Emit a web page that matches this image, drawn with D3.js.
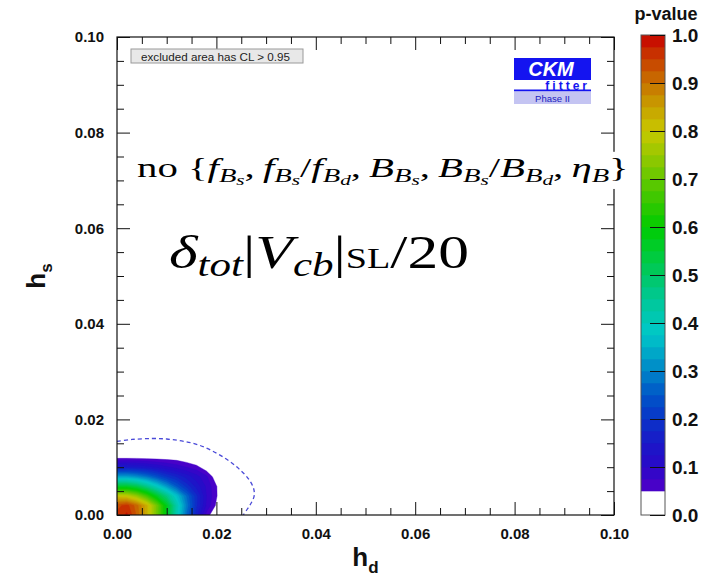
<!DOCTYPE html>
<html><head><meta charset="utf-8">
<script src="https://cdn.jsdelivr.net/npm/d3@7"></script>
<style>body{margin:0;background:#fff} svg{display:block}</style>
</head><body><svg id="c" width="722" height="581"></svg>
<script>
// ---------------- data ----------------
const hdGrid = [0,0.002,0.004,0.006,0.008,0.010,0.012,0.014,0.016,0.018,0.020,0.022,0.024];
const hsGrid = [0,0.002,0.004,0.006,0.008,0.010,0.012,0.014];
// p-value, one row per hs value
const pRow0  = [0.96,0.98,0.92,0.83,0.71,0.57,0.41,0.27,0.16,0.065,0.02,0,0];
const pRow1  = [0.94,0.96,0.91,0.83,0.71,0.57,0.42,0.29,0.18,0.095,0.045,0,0];
const pRow2  = [0.80,0.79,0.74,0.66,0.56,0.47,0.37,0.27,0.18,0.10,0.053,0.01,0];
const pRow3  = [0.55,0.55,0.52,0.46,0.39,0.32,0.25,0.19,0.14,0.095,0.052,0.01,0];
const pRow4  = [0.33,0.33,0.31,0.28,0.24,0.20,0.17,0.14,0.11,0.08,0.03,0.005,0];
const pRow5  = [0.15,0.15,0.145,0.135,0.12,0.105,0.09,0.075,0.06,0.03,0,0,0];
const pRow6  = [0.042,0.042,0.042,0.04,0.038,0.036,0.034,0.025,0.01,0,0,0,0];
const pRow7  = [0,0,0,0,0,0,0,0,0,0,0,0,0];
const pRows = [pRow0,pRow1,pRow2,pRow3,pRow4,pRow5,pRow6,pRow7];

// dashed contour
const dashHd = [0,0.003,0.007,0.010,0.013,0.016,0.019,0.022,0.0245,0.0265,0.0275,0.0276,0.027,0.0262,0.0254];
const dashHs = [0.0154,0.0158,0.0160,0.0159,0.0155,0.0148,0.0135,0.0117,0.0097,0.0075,0.0055,0.0040,0.0025,0.0012,0];

// palette
const colorStops = [0.05,0.10,0.15,0.20,0.25,0.30,0.35,0.38,0.45,0.50,0.55,0.60,0.65,0.70,0.75,0.80,0.85,0.90,0.95,1.00];
const colorHex   = ["#5200c8","#2a08c8","#1a18c8","#0a34c8","#0055c8","#0085c8","#00b2c8","#00c8c8","#00c896","#00c864","#00cc32","#00cc00","#34c800","#64c800","#98c800","#c8c800","#c8a000","#c87200","#c84000","#c80000"];

const xTickLabels = [0,0.02,0.04,0.06,0.08,0.10];
const yTickLabels = [0,0.02,0.04,0.06,0.08,0.10];
const cTickLabels = [0,0.1,0.2,0.3,0.4,0.5,0.6,0.7,0.8,0.9,1.0];

// ---------------- layout ----------------
const plot = {l:117, r:614, t:37, b:515};
const svg = d3.select('#c');
const x = d3.scaleLinear().domain([0,0.1]).range([plot.l, plot.r]);
const y = d3.scaleLinear().domain([0,0.1]).range([plot.b, plot.t]);
const color = d3.scaleLinear().domain(colorStops).range(colorHex).interpolate(d3.interpolateRgb).clamp(true);
const SANS = '"Liberation Sans", Arial, Helvetica, sans-serif';
const SERIF = '"Liberation Serif", "DejaVu Serif", serif';

svg.append('defs').append('clipPath').attr('id','clip')
  .append('rect').attr('x',plot.l).attr('y',plot.t).attr('width',plot.r-plot.l).attr('height',plot.b-plot.t);

// ---------------- filled contours ----------------
const nx = hdGrid.length, ny = hsGrid.length;
const flat = [];
pRows.forEach(r => r.forEach(v => flat.push(v)));
const levels = d3.range(0, 38).map(i => +(0.05 + i*0.025).toFixed(3));
const cont = d3.contours().size([nx, ny]).thresholds(levels)(flat);
const dhd = hdGrid[1]-hdGrid[0], dhs = hsGrid[1]-hsGrid[0];
const proj = d3.geoTransform({point: function(px, py){
  this.stream.point(x(hdGrid[0] + (px-0.5)*dhd), y(hsGrid[0] + (py-0.5)*dhs));
}});
const gpath = d3.geoPath(proj);
const gC = svg.append('g').attr('clip-path','url(#clip)');
gC.selectAll('path.band').data(cont).join('path').attr('class','band')
  .attr('d', gpath).attr('fill', d => color(d.value + 0.0125)).attr('stroke', d => color(d.value + 0.0125)).attr('stroke-width',0.4);

// dashed line
const dashPts = dashHd.map((h,i)=>[h, dashHs[i]]);
gC.append('path').datum(dashPts)
  .attr('d', d3.line().x(d=>x(d[0])).y(d=>y(d[1])).curve(d3.curveCatmullRom))
  .attr('fill','none').attr('stroke','#4a4ad8').attr('stroke-width',1.3).attr('stroke-dasharray','4,3');

// ---------------- axes ----------------
const minorVals = d3.range(0, 21).map(i => +(i*0.005).toFixed(3)).filter(v => Math.round(v*1000) % 20 !== 0);
function styleAxis(g){ g.select('.domain').remove(); g.selectAll('line').attr('stroke','#111').attr('stroke-width',1); 
  g.selectAll('text').style('font-family',SANS).style('font-weight','bold').style('font-size','15px').attr('fill','#111'); }
const fmt = d3.format('.2f');
svg.append('g').attr('transform',`translate(0,${plot.b})`).call(d3.axisBottom(x).tickValues(xTickLabels).tickSize(-13).tickPadding(13).tickFormat(fmt)).call(styleAxis);
svg.append('g').attr('transform',`translate(0,${plot.b})`).call(d3.axisBottom(x).tickValues(minorVals).tickSize(-7).tickFormat('')).call(styleAxis);
svg.append('g').attr('transform',`translate(0,${plot.t})`).call(d3.axisTop(x).tickValues(xTickLabels).tickSize(-13).tickFormat('')).call(styleAxis);
svg.append('g').attr('transform',`translate(0,${plot.t})`).call(d3.axisTop(x).tickValues(minorVals).tickSize(-7).tickFormat('')).call(styleAxis);
svg.append('g').attr('transform',`translate(${plot.l},0)`).call(d3.axisLeft(y).tickValues(yTickLabels).tickSize(-13).tickPadding(13).tickFormat(fmt)).call(styleAxis);
svg.append('g').attr('transform',`translate(${plot.l},0)`).call(d3.axisLeft(y).tickValues(minorVals).tickSize(-7).tickFormat('')).call(styleAxis);
svg.append('g').attr('transform',`translate(${plot.r},0)`).call(d3.axisRight(y).tickValues(yTickLabels).tickSize(-13).tickFormat('')).call(styleAxis);
svg.append('g').attr('transform',`translate(${plot.r},0)`).call(d3.axisRight(y).tickValues(minorVals).tickSize(-7).tickFormat('')).call(styleAxis);
svg.append('rect').attr('x',plot.l).attr('y',plot.t).attr('width',plot.r-plot.l).attr('height',plot.b-plot.t)
  .attr('fill','none').attr('stroke','#111').attr('stroke-width',1.2);

// axis titles
const xt = svg.append('text').attr('x',(plot.l+plot.r)/2).attr('y',566).attr('text-anchor','middle')
  .style('font-family',SANS).style('font-weight','bold').style('font-size','26px').attr('fill','#111');
xt.append('tspan').text('h'); xt.append('tspan').attr('dy',7).style('font-size','17px').text('d');
const yt = svg.append('text').attr('transform',`translate(45,${(plot.t+plot.b)/2}) rotate(-90)`).attr('text-anchor','middle')
  .style('font-family',SANS).style('font-weight','bold').style('font-size','26px').attr('fill','#111');
yt.append('tspan').text('h'); yt.append('tspan').attr('dy',7).style('font-size','17px').text('s');

// ---------------- legend box ----------------
svg.append('rect').attr('x',131).attr('y',49).attr('width',172).attr('height',14).attr('fill','#e8e8e8').attr('stroke','#9a9a9a').attr('stroke-width',1);
svg.append('text').attr('x',141).attr('y',60.5).attr('textLength',149).attr('lengthAdjust','spacingAndGlyphs')
  .style('font-family',SANS).style('font-size','11px').attr('fill','#222').text('excluded area has CL > 0.95');

// ---------------- CKM logo ----------------
const lg = svg.append('g');
lg.append('rect').attr('x',514).attr('y',58).attr('width',77).attr('height',22).attr('fill','#1414f0');
lg.append('text').attr('x',551).attr('y',76).attr('text-anchor','middle').style('font-family',SANS).style('font-weight','bold').style('font-style','italic').style('font-size','20px').attr('fill','#fff').text('CKM');
lg.append('rect').attr('x',514).attr('y',80).attr('width',77).attr('height',11).attr('fill','#fff');
lg.append('rect').attr('x',514).attr('y',89.5).attr('width',77).attr('height',2).attr('fill','#1414f0');
lg.append('text').attr('x',590).attr('y',89.5).attr('text-anchor','end').style('font-family',SANS).style('font-weight','bold').style('font-size','12px').style('letter-spacing','3px').attr('fill','#1414f0').text('fitter');
lg.append('rect').attr('x',514).attr('y',91.5).attr('width',77).attr('height',12.5).attr('fill','#c4c4f2');
lg.append('text').attr('x',552.5).attr('y',101.5).attr('text-anchor','middle').style('font-family',SANS).style('font-size','9.5px').attr('fill','#2020c0').text('Phase II');

// ---------------- math labels ----------------
function mathText(segs, size, x0, x1, base, bg){
  const g = svg.append('g');
  const t = g.append('text').attr('x',0).attr('y',0).style('font-family',SERIF).style('font-size',size+'px').attr('fill','#000');
  const offs = [0, 0.17*size, 0.29*size], scl = [1, 0.7, 0.52];
  let cur = 0;
  segs.forEach(s => {
    const lvl = s[2] || 0;
    t.append('tspan').attr('dy', offs[lvl]-cur).style('font-style', s[1]==='i' ? 'italic':'normal')
      .style('font-size', (size*scl[lvl]*(s[3]||1))+'px').text(s[0]);
    cur = offs[lvl];
  });
  const bb = t.node().getBBox();
  const sx = (x1-x0)/bb.width;
  t.attr('transform', `translate(${x0 - bb.x*sx},${base}) scale(${sx},1)`);
  if (bg) {
    const b2 = g.node().getBBox();
    g.insert('rect','text').attr('x',b2.x-4).attr('y',b2.y-1).attr('width',b2.width+8).attr('height',b2.height+2).attr('fill','#fff');
  }
}
const TS = '\u2009';
mathText([
  ['no {','r'],
  ['f','i'],['B','i',1],['s','i',2],[','+TS,'r'],
  ['f','i'],['B','i',1],['s','i',2],['/','r'],['f','i'],['B','i',1],['d','i',2],[','+TS,'r'],
  ['B','i'],['B','i',1],['s','i',2],[','+TS,'r'],
  ['B','i'],['B','i',1],['s','i',2],['/','r'],['B','i'],['B','i',1],['d','i',2],[','+TS,'r'],
  ['η','i'],['B','i',1],['}','r']
], 27, 137, 629, 177, true);
mathText([
  ['δ','i'],['tot','i',1],['|','r'],['V','i'],['cb','i',1],['|','r'],['SL','r',0,0.62],['/20','r']
], 47, 169, 469, 268, false);

// ---------------- colour bar ----------------
const cb = {l:641, r:665, t:35, b:515};
const cy = d3.scaleLinear().domain([0,1]).range([cb.b, cb.t]);
svg.append('g').selectAll('rect').data(levels).join('rect')
  .attr('x',cb.l).attr('width',cb.r-cb.l)
  .attr('y', d => cy(Math.min(1, d+0.025))).attr('height', d => cy(d)-cy(Math.min(1,d+0.025)) + 0.3)
  .attr('fill', d => color(d+0.0125));
svg.append('rect').attr('x',cb.l).attr('y',cb.t).attr('width',cb.r-cb.l).attr('height',cb.b-cb.t).attr('fill','none').attr('stroke','#555').attr('stroke-width',1);
svg.append('g').attr('transform',`translate(${cb.r},0)`)
  .call(d3.axisRight(cy).tickValues(cTickLabels).tickSize(-15).tickPadding(7).tickFormat(d3.format('.1f')))
  .call(g => { g.select('.domain').remove(); g.selectAll('line').attr('stroke','#111');
    g.selectAll('text').style('font-family',SANS).style('font-weight','bold').style('font-size','19px').attr('fill','#111'); });
svg.append('text').attr('x',666).attr('y',20).attr('text-anchor','middle').style('font-family',SANS).style('font-weight','bold').style('font-size','18px').attr('fill','#111').text('p-value');
</script></body></html>
